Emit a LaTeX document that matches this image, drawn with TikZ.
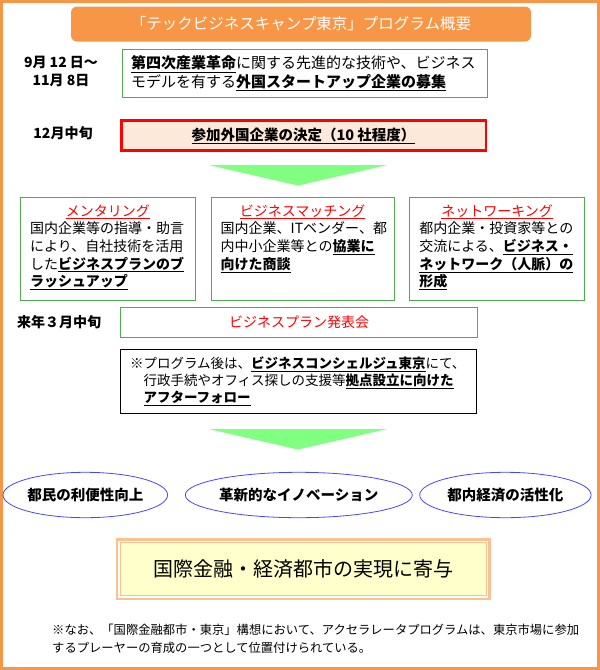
\documentclass[tikz,border=0pt]{standalone}
\usepackage{fontspec}
\setmainfont{Noto Sans CJK JP}
\usetikzlibrary{shapes.geometric, positioning, calc}
\definecolor{frameorange}{RGB}{247,150,70}
\definecolor{boxgreen}{RGB}{80,170,80}
\definecolor{peach}{RGB}{253,233,217}
\definecolor{arrowgreen}{RGB}{128,255,128}
\definecolor{ovalblue}{RGB}{70,70,255}
\definecolor{goalband}{RGB}{250,192,144}
\definecolor{goalfill}{RGB}{255,255,204}
\newcommand{\keyterm}[1]{\underline{\textbf{#1}}}

\begin{document}
\begin{tikzpicture}[x=1pt, y=-1pt,
  frame/.style={draw=frameorange, line width=3pt},
  titlebar/.style={fill=frameorange, rounded corners=6pt, minimum width=460pt, minimum height=35pt, text=white, font=\fontsize{15.5}{18}\selectfont},
  datelabel/.style={align=center, inner sep=0pt, font=\fontsize{14}{18}\selectfont\bfseries},
  greenbox/.style={draw=boxgreen, line width=0.8pt, fill=white},
  selectbox/.style={draw=red, line width=2.5pt, fill=peach, minimum width=364.5pt, minimum height=30pt, font=\fontsize{14.5}{17}\selectfont},
  cardsize/.style={minimum width=175pt, minimum height=102.7pt},
  cardtitle/.style={anchor=base, inner sep=0pt, text=red, font=\fontsize{14}{17}\selectfont},
  cardbody/.style={anchor=north west, align=left, inner sep=0pt, font=\fontsize{14}{17.6}\selectfont},
  notebox/.style={draw=black, line width=0.8pt, minimum width=356pt, minimum height=64pt, text width=337pt, inner xsep=9.5pt, align=left, font=\fontsize{13.5}{16.7}\selectfont},
  outcome/.style={ellipse, draw=ovalblue, line width=0.8pt, minimum height=45.4pt, inner sep=0pt, font=\fontsize{14.5}{17}\selectfont\bfseries},
  goalbox/.style={draw=goalband, line width=4.7pt, fill=goalfill, minimum width=369.9pt, minimum height=57pt, font=\fontsize{20}{24}\selectfont},
  remarktext/.style={anchor=base west, align=left, inner sep=0pt, font=\fontsize{12.3}{17.7}\selectfont}
]
\useasboundingbox (0,0) rectangle (600,670);
\draw[frame] (1.5,1.5) rectangle (598.5,668.5);

\node[titlebar] (title) at (301,24) {「テックビジネスキャンプ東京」プログラム概要};

% recruiting and selection
\node[greenbox, minimum width=365pt, minimum height=48pt, text width=347pt, inner xsep=9pt, align=left, font=\fontsize{15}{18.4}\selectfont] (recruit) at (304.5,73.3) {\keyterm{第四次産業革命}に関する先進的な技術や、ビジネス\\モデルを有する\keyterm{外国スタートアップ企業の募集}};
\node[datelabel] (recruitdate) at (61,71) {9月 12 日〜\\11月 8日};

\node[selectbox] (select) at (303.5,135.5) {\keyterm{参加外国企業の決定（10 社程度）}};
\node[datelabel] (selectdate) at (63,133) {12月中旬};

\fill[arrowgreen] (208.6,165) -- (387.3,165) -- (298,185.5) -- cycle;

% three programme cards
\node[greenbox, cardsize, anchor=north west] (mentor) at (20,197.3) {};
\node[greenbox, cardsize, minimum width=183.3pt, right=14.7pt of mentor] (matching) {};
\node[greenbox, cardsize, right=14.6pt of matching] (network) {};

\node[cardtitle] (mentortitle) at ([yshift=-18.7pt]mentor.north) {\underline{メンタリング}};
\node[cardtitle] (matchingtitle) at ([yshift=-18.7pt]matching.north) {\underline{ビジネスマッチング}};
\node[cardtitle] (networktitle) at ([yshift=-18.7pt]network.north) {\underline{ネットワーキング}};

\node[cardbody] (mentorbody) at ([xshift=10pt,yshift=-24.5pt]mentor.north west) {国内企業等の指導・助言\\により、自社技術を活用\\した\keyterm{ビジネスプランのブ}\\\keyterm{ラッシュアップ}};
\node[cardbody] (matchingbody) at ([xshift=10pt,yshift=-24.5pt]matching.north west) {国内企業、ITベンダー、都\\内中小企業等との\keyterm{協業に}\\\keyterm{向けた商談}};
\node[cardbody] (networkbody) at ([xshift=10pt,yshift=-24.5pt]network.north west) {都内企業・投資家等との\\交流による、\keyterm{ビジネス・}\\\keyterm{ネットワーク（人脈）の}\\\keyterm{形成}};

% pitch event and follow-up
\node[greenbox, minimum width=357pt, minimum height=30pt, text=red, font=\fontsize{14}{17}\selectfont] (pitch) at (299,322.3) {ビジネスプラン発表会};
\node[datelabel] (pitchdate) at (59,321.7) {来年３月中旬};

\node[notebox] (aftercare) at (298.5,381.3) {※プログラム後は、\keyterm{ビジネスコンシェルジュ東京}にて、\\　行政手続やオフィス探しの支援等\keyterm{拠点設立に向けた}\\　\keyterm{アフターフォロー}};

\fill[arrowgreen] (208.6,429) -- (387.3,429) -- (298,449.5) -- cycle;

% outcomes
\node[outcome, minimum width=164.6pt] (benefit) at (85.3,495) {都民の利便性向上};
\node[outcome, minimum width=227pt, right=16.9pt of benefit] (innovation) {革新的なイノベーション};
\node[outcome, minimum width=171.4pt, right=6.6pt of innovation] (economy) {都内経済の活性化};

\node[goalbox] (goal) at (303.3,569.2) {国際金融・経済都市の実現に寄与};
\draw[white, line width=1.3pt] ([xshift=3pt,yshift=-3pt]goal.north west) rectangle ([xshift=-3pt,yshift=3pt]goal.south east);
\draw[goalband, line width=1.3pt] ([xshift=4.3pt,yshift=-4.3pt]goal.north west) rectangle ([xshift=-4.3pt,yshift=4.3pt]goal.south east);

\node[remarktext] (remark) at (52,652.4) {※なお、「国際金融都市・東京」構想において、アクセラレータプログラムは、東京市場に参加\\するプレーヤーの育成の一つとして位置付けられている。};
\end{tikzpicture}
\end{document}
